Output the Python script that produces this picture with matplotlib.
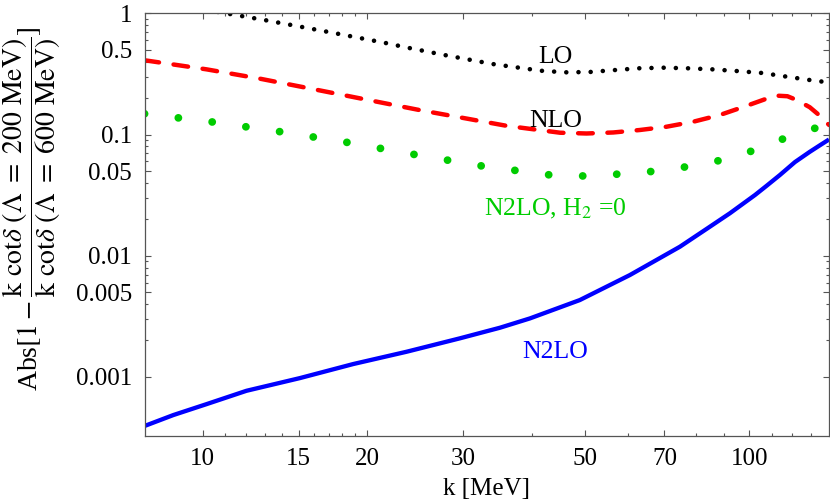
import numpy as np
import matplotlib
matplotlib.use('Agg')
import matplotlib.pyplot as plt

plt.rcParams['font.family'] = ['Liberation Serif', 'DejaVu Serif']
plt.rcParams['mathtext.fontset'] = 'stix'

# data (k in MeV)
k_lo = [7.83, 9.0, 10.0, 11.03, 12.88, 15.0, 17.51, 21.5, 23.75, 27.7, 33.9, 41.6, 46.1,
        51.1, 56.6, 62.8, 69.6, 77.2, 85.6, 95.1, 105.6, 117.3, 130.3, 140]
lo = [1.32, 1.18, 1.08, 1.0, 0.886, 0.78, 0.684, 0.572, 0.520, 0.453, 0.382, 0.336, 0.326,
      0.328, 0.340, 0.352, 0.356, 0.352, 0.345, 0.334, 0.322, 0.300, 0.280, 0.269]

k_nlo = [7.83, 10.17, 12.73, 15.94, 19.95, 24.98, 28.7, 36.0, 45.1, 50.4, 56.4, 63.1, 70.6,
         79.0, 88.4, 98.0, 109.1, 113.0, 117.5, 122.1, 129.1, 134.2, 140]
nlo = [0.410, 0.345, 0.289, 0.237, 0.194, 0.159, 0.142, 0.118, 0.1035, 0.102, 0.104, 0.109, 0.116,
       0.1275, 0.145, 0.170, 0.202, 0.209, 0.207, 0.193, 0.168, 0.145, 0.120]

k_h2 = [7.83, 10.44, 13.87, 18.37, 24.3, 32.2, 42.8, 49.4, 57.0, 65.6, 75.6, 87.0, 99.9,
        113.8, 130.6, 140]
h2 = [0.1484, 0.1268, 0.1055, 0.0862, 0.0687, 0.0553, 0.0466, 0.0455, 0.0470, 0.0493, 0.0536,
      0.0601, 0.0717, 0.0901, 0.111, 0.123]

k_n2lo = [7.83, 8.84, 10.17, 12.03, 15.07, 18.86, 23.61, 29.56, 34.99, 39.7, 49.0, 60.5,
          74.7, 84.0, 92.2, 102.5, 107.5, 113.8, 121.3, 129.1, 135.0, 140]
n2lo = [3.94e-4, 4.85e-4, 5.97e-4, 7.69e-4, 9.79e-4, 1.278e-3, 1.614e-3, 2.083e-3, 2.547e-3,
        3.04e-3, 4.31e-3, 6.93e-3, 0.01187, 0.0169, 0.0224, 0.0317, 0.0376, 0.0463, 0.0593,
        0.072, 0.082, 0.091]

xticks = [10, 15, 20, 30, 50, 70, 100]
xminor = [11, 12, 13, 14, 16, 17, 18, 19, 40, 60, 80, 90, 110, 120, 130]
yticks = [1, 0.5, 0.1, 0.05, 0.01, 0.005, 0.001]
ylabels = ['1', '0.5', '0.1', '0.05', '0.01', '0.005', '0.001']
yminor = [m * d for d in [0.001, 0.01, 0.1] for m in [2, 3, 4, 6, 7, 8, 9]]

green = '#00cc00'

fig = plt.figure(figsize=(8.3, 4.99), dpi=100)
ax = fig.add_axes([0.1741, 0.1263, 0.8247, 0.847])

ax.plot(k_lo, lo, color='black', lw=3.3, linestyle=(0, (0.01, 2.65)), dash_capstyle='round')
ax.plot(k_nlo, nlo, color='red', lw=3.2, linestyle=(0, (3.3, 3.3)), dash_capstyle='round')
ax.plot(k_h2, h2, color=green, lw=5.6, linestyle=(0, (0.01, 4.37)), dash_capstyle='round')
ax.plot(k_n2lo, n2lo, color='blue', lw=3.1, solid_capstyle='butt')

ax.set_xscale('log')
ax.set_yscale('log')
ax.set_xlim(7.83, 140)
ax.set_ylim(3.26e-4, 1)

ax.set_xticks(xticks, [str(t) for t in xticks])
ax.set_xticks(xminor, minor=True)
ax.set_yticks(yticks, ylabels)
ax.set_yticks(yminor, minor=True)
ax.xaxis.set_minor_formatter(matplotlib.ticker.NullFormatter())
ax.yaxis.set_minor_formatter(matplotlib.ticker.NullFormatter())

ax.tick_params(which='both', direction='in', top=True, right=True, color='#555555',
               labelsize=18, width=0.8)
ax.tick_params(which='major', length=4)
ax.tick_params(which='minor', length=2.2)
ax.tick_params(axis='x', pad=9)
ax.tick_params(axis='y', pad=9)
for s in ax.spines.values():
    s.set_color('#555555')
    s.set_linewidth(0.9)

ax.set_xlabel('k [MeV]', fontsize=18, labelpad=5.5)
ax.set_ylabel(r'Abs$[1-\dfrac{\mathrm{k\ cot}\delta\ (\Lambda\ =\ 200\ \mathrm{MeV})}'
              r'{\mathrm{k\ cot}\delta\ (\Lambda\ =\ 600\ \mathrm{MeV})}]$',
              fontsize=20, va='center', ha='center')
ax.yaxis.set_label_coords(-0.1644, 0.539)

ax.text(44.2, 0.387, 'LO', fontsize=18.5, ha='center', va='baseline', color='black')
ax.text(44.2, 0.116, 'NLO', fontsize=18.5, ha='center', va='baseline', color='black')
ax.text(44.2, 0.0217, r'N2LO, H$_2$ =0', fontsize=18.5, ha='center', va='baseline', color=green)
ax.text(44.2, 1.424e-3, 'N2LO', fontsize=18.5, ha='center', va='baseline', color='blue')

fig.savefig('out.png', dpi=100)
